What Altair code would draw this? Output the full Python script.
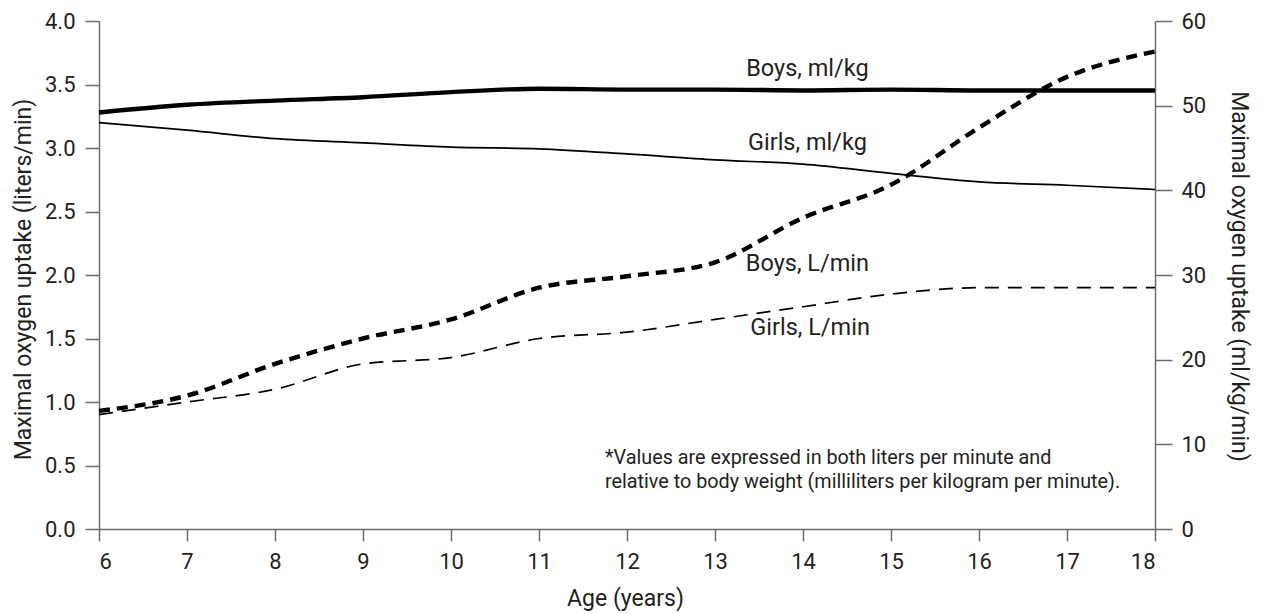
import altair as alt
import pandas as pd

ages = [6, 7, 8, 9, 10, 11, 12, 13, 14, 15, 16, 17, 18]
boys_lmin = [0.93, 1.05, 1.30, 1.50, 1.65, 1.90, 1.99, 2.10, 2.45, 2.71, 3.16, 3.56, 3.76]
girls_lmin = [0.90, 1.00, 1.10, 1.30, 1.35, 1.50, 1.55, 1.65, 1.75, 1.85, 1.90, 1.90, 1.90]
boys_mlkg = [49.2, 50.1, 50.6, 51.0, 51.6, 52.0, 51.9, 51.9, 51.8, 51.9, 51.8, 51.8, 51.8]
girls_mlkg = [48.0, 47.1, 46.1, 45.6, 45.1, 44.9, 44.3, 43.6, 43.1, 42.0, 41.0, 40.6, 40.1]

label_text = ["Boys, ml/kg", "Girls, ml/kg", "Boys, L/min", "Girls, L/min"]
label_x = [14.05, 14.05, 14.05, 14.08]
label_y = [3.62, 3.04, 2.09, 1.58]

note_lines = ["*Values are expressed in both liters per minute and",
              "relative to body weight (milliliters per kilogram per minute)."]
note_x = [11.75, 11.75]
note_y = [0.56, 0.37]

FONT = "Roboto"
TXT = "#231f20"
AX = "#6b6b6b"

df = pd.DataFrame({"age": ages, "boys_l": boys_lmin, "girls_l": girls_lmin,
                   "boys_m": boys_mlkg, "girls_m": girls_mlkg})
lab_df = pd.DataFrame({"t": label_text, "x": label_x, "y": label_y})
note_df = pd.DataFrame({"t": note_lines, "x": note_x, "y": note_y})

xenc = alt.X("age:Q", scale=alt.Scale(domain=[6, 18], nice=False),
             axis=alt.Axis(values=ages, title="Age (years)", grid=False, tickSize=12,
                           labelPadding=10, format="d",
                           titleX=526, titleY=69, titleBaseline="middle", titleAlign="center"))

yl_scale = alt.Scale(domain=[0, 4], nice=False)
yl_axis = alt.Axis(values=[0, 0.5, 1, 1.5, 2, 2.5, 3, 3.5, 4], format=".1f", grid=False,
                   tickSize=14, labelPadding=10,
                   title="Maximal oxygen uptake (liters/min)",
                   titleX=-76, titleY=258, titleAngle=270, titleBaseline="middle", titleAlign="center")
yr_scale = alt.Scale(domain=[0, 60], nice=False)
yr_axis = alt.Axis(values=[0, 10, 20, 30, 40, 50, 60], format="d", grid=False, orient="right",
                   tickSize=17, labelPadding=9,
                   title="Maximal oxygen uptake (ml/kg/min)",
                   titleX=83, titleY=255, titleAngle=90, titleBaseline="middle", titleAlign="center")

base = alt.Chart(df)
boysL = base.mark_line(color="black", strokeWidth=4.4, strokeDash=[11, 7], interpolate="monotone").encode(
    x=xenc, y=alt.Y("boys_l:Q", scale=yl_scale, axis=yl_axis))
girlsL = base.mark_line(color="black", strokeWidth=1.7, strokeDash=[14, 9], interpolate="monotone").encode(
    x="age:Q", y=alt.Y("girls_l:Q", scale=yl_scale))
labels = alt.Chart(lab_df).mark_text(font=FONT, fontSize=23.5, color=TXT, align="center", baseline="middle").encode(
    x="x:Q", y=alt.Y("y:Q", scale=yl_scale), text="t:N")
notes = alt.Chart(note_df).mark_text(font=FONT, fontSize=19.8, color=TXT, align="left", baseline="middle").encode(
    x="x:Q", y=alt.Y("y:Q", scale=yl_scale), text="t:N")
left = alt.layer(boysL, girlsL, labels, notes)

boysM = base.mark_line(color="black", strokeWidth=4.4, interpolate="monotone").encode(
    x="age:Q", y=alt.Y("boys_m:Q", scale=yr_scale, axis=yr_axis))
girlsM = base.mark_line(color="black", strokeWidth=1.7, interpolate="monotone").encode(
    x="age:Q", y=alt.Y("girls_m:Q", scale=yr_scale))
right = alt.layer(boysM, girlsM)

chart = alt.layer(left, right).resolve_scale(y="independent").properties(
    width=1056, height=508,
    autosize=alt.AutoSizeParams(type="none"),
    padding={"left": 91, "top": 13, "right": 98, "bottom": 85},
).configure_view(stroke=None).configure_axis(
    labelFont=FONT, titleFont=FONT, labelFontSize=22, titleFontSize=23,
    labelColor=TXT, titleColor=TXT, titleFontWeight="normal",
    domainColor=AX, tickColor=AX, domainWidth=1.5, tickWidth=1.5,
)

chart.save("out.html", embed_options={"renderer": "svg", "actions": False})
